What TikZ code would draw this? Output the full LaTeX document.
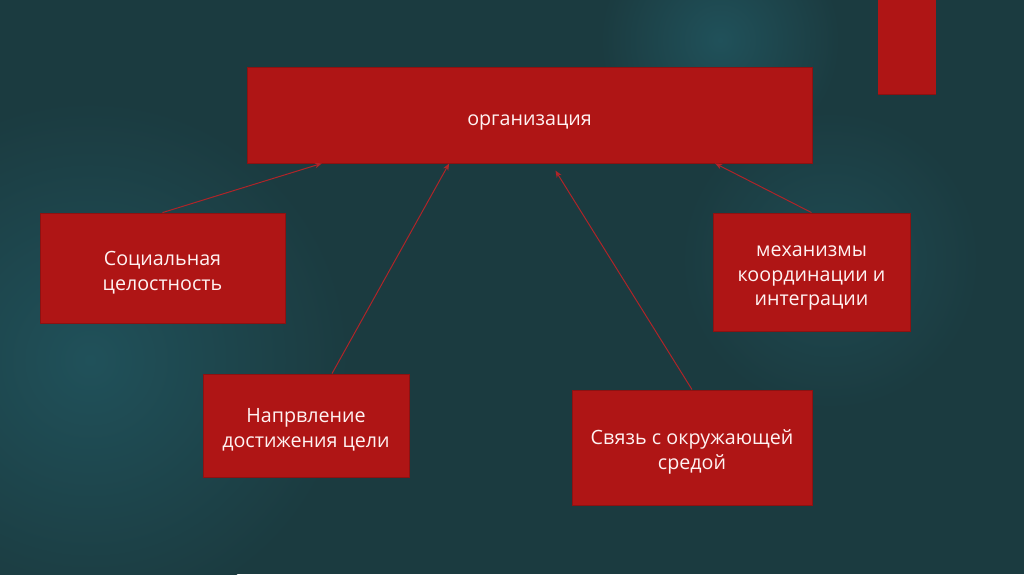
\documentclass[tikz,border=0pt]{standalone}
\usepackage{fontspec}
\setmainfont{Open Sans}
\usepackage{tikz}
\usetikzlibrary{calc, positioning, arrows.meta}
\definecolor{slidebg}{HTML}{1B3B40}
\definecolor{slideglow}{HTML}{20515A}
\definecolor{boxred}{HTML}{AF1515}
\definecolor{boxedge}{HTML}{8C1212}
\definecolor{linkred}{HTML}{B02428}
\newcommand{\textdrop}{\rule{0pt}{16.5pt}}

\begin{document}
\begin{tikzpicture}[
    x=0.025cm, y=-0.025cm,
    block/.style={rectangle, draw=boxedge, fill=boxred, line width=0.6pt,
                  text=white!95!red, align=center, inner sep=0pt,
                  font=\fontsize{14}{17.5}\selectfont,
                  execute at begin node={\rule{0pt}{18pt}}},
    link/.style={draw=linkred, line width=0.7pt,
                 -{Stealth[length=5pt, width=4pt]}},
]
    % Background
    \clip (0,0) rectangle (1024,574);
    \fill[slidebg] (0,0) rectangle (1024,574);
    \shade[inner color=slideglow, outer color=slidebg]
        (90,360) circle (260);
    \shade[inner color=slideglow, outer color=slidebg]
        (720,40) circle (120);
    \shade[inner color=slideglow!70!slidebg, outer color=slidebg]
        (830,260) circle (150);
    \fill[boxred] (878,0) rectangle (936,94);
    \draw[boxedge, line width=0.6pt] (878,94) -- (936,94);

    % Nodes
    \node[block, minimum width=14.125cm, minimum height=2.4cm]
        (org) at (529.5,115) {организация};
    \node[block, minimum width=6.125cm, minimum height=2.75cm]
        (social) at (162.5,268) {\textdrop Социальная\\целостность};
    \node[block, minimum width=5.15cm, minimum height=2.575cm]
        (goal) at (306,425.5) {\textdrop Напрвление\\достижения цели};
    \node[block, minimum width=6cm, minimum height=2.875cm]
        (env) at (692,447.5) {\textdrop Связь с окружающей\\средой};
    \node[block, minimum width=4.925cm, minimum height=2.95cm]
        (coord) at (811.5,272)
        {\textdrop механизмы\\координации и\\интеграции};

    % Edges
    \draw[link] (social.north)
        -- ($(org.south west)!0.133!(org.south east)$);
    \draw[link] ($(goal.north)+(26,0)$)
        -- ($(org.south west)!0.358!(org.south east)$);
    \draw[link, shorten >=6pt] (env.north)
        -- ($(org.south west)!0.538!(org.south east)$);
    \draw[link] (coord.north)
        -- ($(org.south west)!0.828!(org.south east)$);
\end{tikzpicture}
\end{document}
